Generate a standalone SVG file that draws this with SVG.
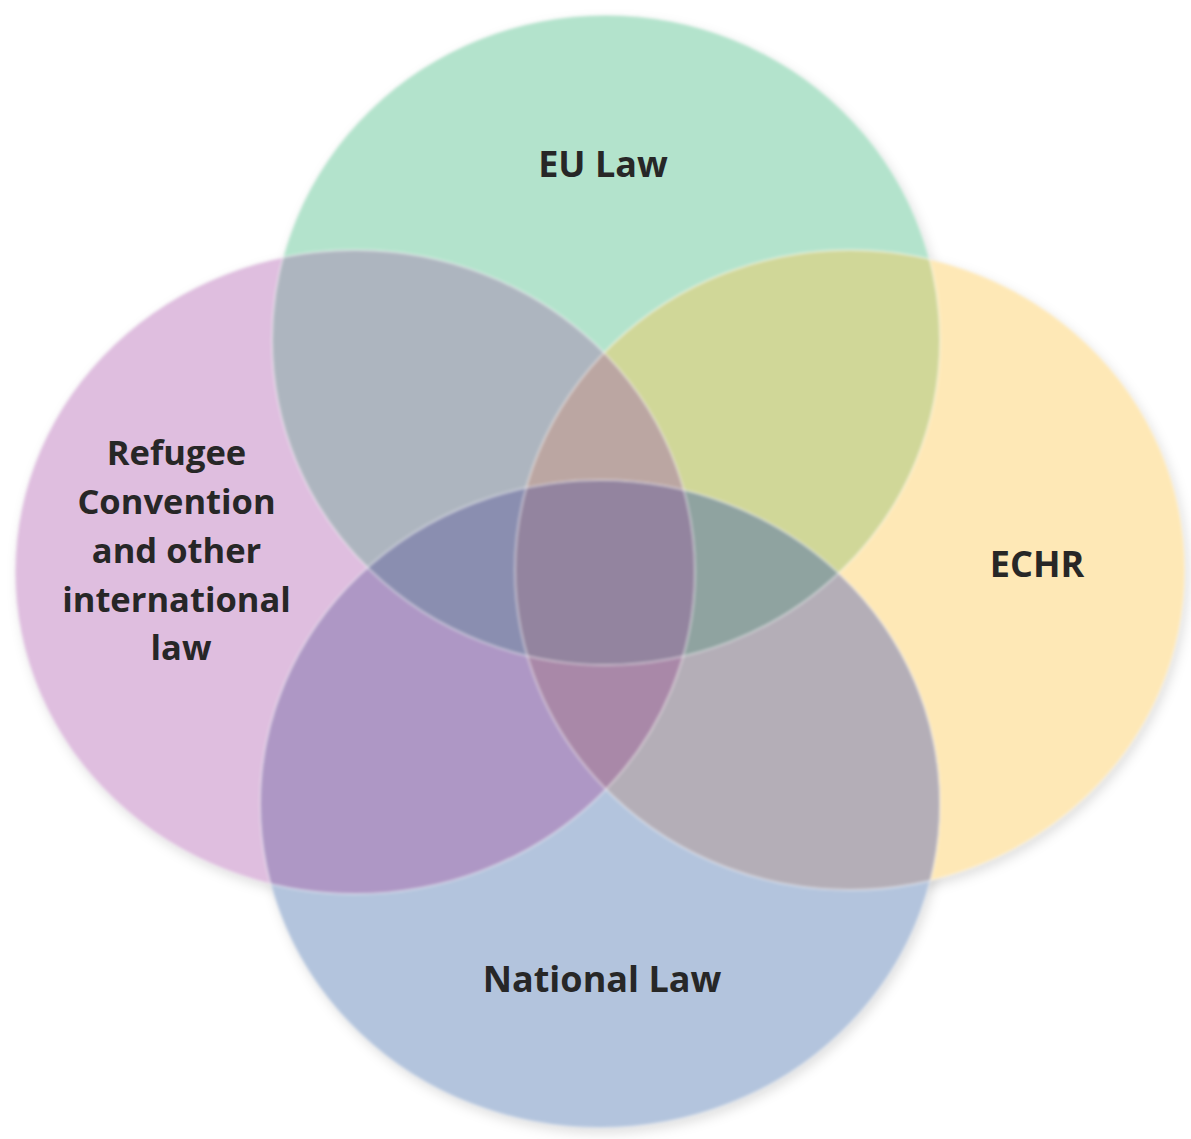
<svg xmlns="http://www.w3.org/2000/svg" xmlns:xlink="http://www.w3.org/1999/xlink" width="1191" height="1139" viewBox="0 0 1191 1139">
  <style>
    .lbl { font-family: "Open Sans", "Liberation Sans", sans-serif; font-weight: 700; font-size: 36px; fill: #272727; text-anchor: middle; }
    .lbl-multi { font-size: 34.5px; }
    .rim { fill: none; stroke: #ffffff; stroke-opacity: 0.4; stroke-width: 2; }
  </style>
  <defs>
    <ellipse id="eG" cx="606" cy="340" rx="334" ry="325"/>
    <ellipse id="eP" cx="355" cy="572" rx="340" ry="322"/>
    <ellipse id="eY" cx="850" cy="570" rx="335" ry="320"/>
    <ellipse id="eB" cx="600" cy="804" rx="340" ry="324"/>
    <clipPath id="cG"><use href="#eG"/></clipPath>
    <clipPath id="cP"><use href="#eP"/></clipPath>
    <clipPath id="cY"><use href="#eY"/></clipPath>
    <clipPath id="cB"><use href="#eB"/></clipPath>
    <filter id="soft" x="-10%" y="-10%" width="120%" height="120%">
      <feGaussianBlur stdDeviation="1.6"/>
    </filter>
    <filter id="shadow" x="-10%" y="-10%" width="120%" height="120%">
      <feGaussianBlur stdDeviation="6"/>
    </filter>
  </defs>
  <rect width="1191" height="1139" fill="#ffffff"/>

  <g id="shadow" fill="#000000" fill-opacity="0.13" filter="url(#shadow)" transform="translate(3,5)">
    <use href="#eG"/><use href="#eP"/><use href="#eY"/><use href="#eB"/>
  </g>

  <g id="venn" filter="url(#soft)">
    <g id="node-eu"><use href="#eG" fill="#b3e3cc"/></g>
    <g id="node-refugee"><use href="#eP" fill="#dfbedf"/></g>
    <g id="node-echr"><use href="#eY" fill="#fee8b6"/></g>
    <g id="node-national"><use href="#eB" fill="#b3c4dd"/></g>

    <g id="overlaps">
      <g clip-path="url(#cG)"><use href="#eP" fill="#adb5bf"/></g>
      <g clip-path="url(#cG)"><use href="#eY" fill="#d0d798"/></g>
      <g clip-path="url(#cP)"><use href="#eB" fill="#ae97c5"/></g>
      <g clip-path="url(#cY)"><use href="#eB" fill="#b4aeb7"/></g>
      <g clip-path="url(#cP)"><use href="#eY" fill="#c2a0a6"/></g>
      <g clip-path="url(#cG)"><use href="#eB" fill="#98a8b8"/></g>
      <g clip-path="url(#cG)"><g clip-path="url(#cP)"><use href="#eY" fill="#bba6a2"/></g></g>
      <g clip-path="url(#cG)"><g clip-path="url(#cP)"><use href="#eB" fill="#8a8eb0"/></g></g>
      <g clip-path="url(#cG)"><g clip-path="url(#cY)"><use href="#eB" fill="#8fa3a0"/></g></g>
      <g clip-path="url(#cP)"><g clip-path="url(#cY)"><use href="#eB" fill="#a988a8"/></g></g>
      <g clip-path="url(#cG)"><g clip-path="url(#cP)"><g clip-path="url(#cY)"><use href="#eB" fill="#93849f"/></g></g></g>
    </g>

    <g id="rims">
      <use href="#eG" class="rim"/>
      <use href="#eP" class="rim"/>
      <use href="#eY" class="rim"/>
      <use href="#eB" class="rim"/>
    </g>
  </g>

  <g id="labels">
    <text id="label-eu" class="lbl" x="603" y="177">EU Law</text>
    <text id="label-echr" class="lbl" x="1037" y="577">ECHR</text>
    <text id="label-national" class="lbl" x="602" y="992">National Law</text>
    <text id="label-refugee" class="lbl lbl-multi">
      <tspan x="181" y="465">Refugee</tspan>
      <tspan x="181" y="514">Convention</tspan>
      <tspan x="181" y="563">and other</tspan>
      <tspan x="181" y="612">international</tspan>
      <tspan x="181" y="660">law</tspan>
    </text>
  </g>
</svg>
